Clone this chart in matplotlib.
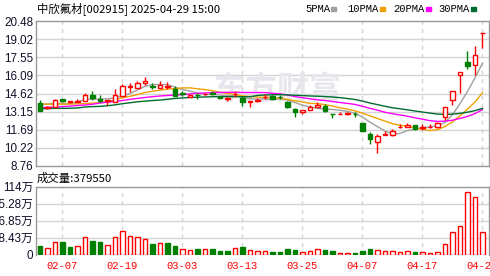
import matplotlib
matplotlib.use("Agg")
import matplotlib.pyplot as plt
import pandas as pd

# ---------------------------------------------------------------------------
# data (price in 元, volume in 万股)
# ---------------------------------------------------------------------------
dates = ["01-27", "02-05", "02-06", "02-07", "02-10", "02-11", "02-12", "02-13",
         "02-14", "02-17", "02-18", "02-19", "02-20", "02-21", "02-24", "02-25",
         "02-26", "02-27", "02-28", "03-03", "03-04", "03-05", "03-06", "03-07",
         "03-10", "03-11", "03-12", "03-13", "03-14", "03-17", "03-18", "03-19",
         "03-20", "03-21", "03-24", "03-25", "03-26", "03-27", "03-28", "03-31",
         "04-01", "04-02", "04-03", "04-07", "04-08", "04-09", "04-10", "04-11",
         "04-14", "04-15", "04-16", "04-17", "04-18", "04-21", "04-22", "04-23",
         "04-24", "04-25", "04-28", "04-29"]

opens = [13.83, 13.45, 13.50, 14.16, 13.92, 13.95, 14.05, 14.50, 14.18, 13.98,
         13.95, 14.42, 15.15, 15.10, 15.50, 15.20, 15.10, 15.15, 14.96, 14.70,
         14.36, 14.52, 14.55, 14.65, 14.36, 14.18, 14.55, 14.28, 13.95, 14.05,
         14.30, 14.42, 14.36, 13.90, 13.40, 13.10, 13.30, 13.55, 13.60, 12.98,
         12.95, 13.00, 12.98, 12.20, 11.32, 10.68, 11.30, 11.27, 11.90, 11.90,
         12.08, 11.85, 11.90, 11.88, 12.75, 14.10, 16.12, 17.15, 16.92, 19.50]
highs = [14.10, 13.60, 14.18, 14.20, 14.05, 14.20, 14.64, 14.82, 14.50, 14.10,
         14.96, 15.36, 15.45, 15.63, 15.93, 15.45, 15.63, 15.55, 15.25, 14.82,
         14.60, 14.70, 14.65, 14.82, 14.40, 14.30, 14.82, 14.42, 14.02, 14.23,
         14.58, 14.50, 14.50, 14.00, 13.45, 13.30, 13.70, 13.90, 13.75, 13.00,
         13.15, 13.10, 13.10, 12.20, 11.53, 11.35, 11.60, 11.75, 12.13, 12.20,
         12.10, 12.13, 12.13, 12.34, 13.55, 14.85, 16.38, 18.05, 18.46, 19.50]
lows = [13.20, 13.40, 13.50, 13.90, 13.85, 13.90, 14.02, 14.10, 13.90, 13.70,
        13.90, 14.40, 14.76, 15.08, 15.30, 14.96, 15.08, 14.96, 14.40, 14.42,
        14.34, 14.20, 14.50, 14.50, 14.25, 14.00, 14.36, 13.63, 13.55, 13.90,
        14.18, 14.18, 14.20, 13.45, 12.75, 12.95, 13.30, 13.50, 13.15, 12.62,
        12.95, 12.90, 12.70, 11.60, 10.54, 9.84, 11.30, 11.20, 11.80, 11.88,
        11.70, 11.67, 11.85, 11.80, 12.48, 13.70, 14.68, 16.60, 16.12, 18.27]
closes = [13.23, 13.55, 14.09, 14.02, 14.00, 14.05, 14.50, 14.24, 14.05, 14.08,
          14.50, 15.23, 15.25, 15.45, 15.60, 15.15, 15.30, 15.20, 14.42, 14.62,
          14.52, 14.48, 14.60, 14.60, 14.28, 14.22, 14.60, 13.90, 14.00, 14.10,
          14.35, 14.18, 14.30, 13.50, 13.10, 13.30, 13.50, 13.70, 13.18, 12.95,
          13.00, 13.05, 12.93, 11.62, 10.92, 11.18, 11.33, 11.59, 11.95, 12.08,
          11.75, 11.90, 11.95, 12.26, 13.55, 14.85, 16.38, 16.88, 17.73, 19.50]
volumes = [14.1, 10.3, 20.8, 20.8, 12.5, 13.6, 30.2, 22.4, 20.8, 15.3,
           30.2, 40.2, 31.9, 28.6, 25.2, 17.4, 18.6, 19.1, 14.1, 8.6,
           7.0, 9.1, 8.6, 9.1, 5.8, 5.8, 10.3, 12.6, 7.1, 5.6,
           5.5, 3.9, 4.4, 8.9, 7.2, 3.9, 5.5, 10.0, 7.2, 6.1,
           2.2, 3.3, 2.2, 5.5, 8.9, 7.2, 5.5, 5.5, 3.9, 5.5,
           3.9, 3.9, 2.2, 3.9, 17.2, 38.2, 48.1, 104.6, 96.3, 37.955]
# r = up day, g = down day (colour of each volume bar)
vol_dirs = "grrggrrggrrrrrrgrggrrgrgggrgrrrggggrrrggrrgggrrrrrgrrrrrrrrr"

# moving averages before the window is full (need days before the chart)
ma_heads = {
    5: [13.69, 13.77, 13.80, 13.83],
    10: [13.78, 13.76, 13.75, 13.76, 13.77, 13.78, 13.80, 13.84, 13.86],
    20: [13.48, 13.50, 13.52, 13.56, 13.60, 13.65, 13.69, 13.75, 13.85, 13.92,
         13.98, 14.05, 14.15, 14.22, 14.30, 14.36, 14.42, 14.46, 14.50],
    30: [13.38, 13.40, 13.42, 13.42, 13.43, 13.45, 13.53, 13.56, 13.58, 13.63,
         13.70, 13.80, 13.87, 13.95, 14.00, 14.05, 14.09, 14.15, 14.22, 14.26,
         14.30, 14.32, 14.34, 14.36, 14.36, 14.36, 14.36, 14.36, 14.36],
}
ma_colors = {5: "#a0a0a0", 10: "#f0a000", 20: "#ff00ff", 30: "#006b30"}

price_ticks = [8.76, 10.22, 11.69, 13.15, 14.62, 16.09, 17.55, 19.02, 20.48]
vol_ticks = [0, 28.43, 56.85, 85.28, 113.7]
vol_labels = ["0", "28.43万", "56.85万", "85.28万", "114万"]
date_ticks = ["02-07", "02-19", "03-03", "03-13", "03-25", "04-07", "04-17", "04-29"]

title = "中欣氟材[002915] 2025-04-29 15:00"
last_volume = "成交量:379550"

RED = "#ff0000"
GREEN = "#008000"
GRID = "#d4d4d4"
FRAME = "#999999"
CJK = ["Noto Sans CJK SC", "DejaVu Sans"]
NUM = ["Liberation Sans", "Noto Sans CJK SC"]

#############################################################################
# figure layout
# -------------

W, H = 490, 276
fig = plt.figure(figsize=(W / 100, H / 100), dpi=100)
ax = fig.add_axes([36 / W, 1 - 166 / H, 453 / W, 145 / H])
axv = fig.add_axes([36 / W, 1 - 254.5 / H, 453 / W, 67.7 / H])

n = len(closes)
x = list(range(n))
xlim = (-0.53, n - 0.13)

for a in (ax, axv):
    a.set_xlim(*xlim)
    for s in a.spines.values():
        s.set_color(FRAME)
        s.set_linewidth(1.0)
    a.tick_params(length=0)
    for d in date_ticks:
        a.axvline(dates.index(d), color=GRID, lw=1, ls=(0, (3, 3)), zorder=0)
axv.spines["bottom"].set_visible(False)

#############################################################################
# price panel
# -----------

ax.set_ylim(price_ticks[0], price_ticks[-1])
ax.set_yticks(price_ticks)
ax.set_yticklabels(["%.2f" % t for t in price_ticks], family=NUM,
                   fontsize=8.4, color="#10102a")
ax.tick_params(axis="y", pad=2)
ax.set_xticks([])
for t in price_ticks[1:-1]:
    ax.axhline(t, color=GRID, lw=1, zorder=0)

ax.text(0.39, 0.52, "东方财富", transform=ax.transAxes, fontsize=23,
        family=CJK, fontweight="bold", color="#e6e6ec", va="center",
        ha="left", zorder=0.5)

closes_s = pd.Series(closes)
for p, head in ma_heads.items():
    ma = closes_s.rolling(p).mean()
    ma.iloc[:len(head)] = head
    ax.plot(x, ma, color=ma_colors[p], lw=1.0, zorder=2)

for i in x:
    o, h, l, c = opens[i], highs[i], lows[i], closes[i]
    up = c >= o
    col = RED if up else GREEN
    ax.vlines(i, l, h, color=col, lw=1.0, zorder=3)
    body = max(abs(c - o), 0.015)
    ax.bar(i, body, bottom=min(o, c), width=0.62,
           facecolor="white" if up else GREEN, edgecolor=col, lw=1.0,
           zorder=4)

#############################################################################
# volume panel
# ------------

axv.set_ylim(vol_ticks[0], vol_ticks[-1])
axv.set_yticks(vol_ticks)
axv.set_yticklabels(vol_labels, family=NUM, fontsize=8.4, color="#10102a")
axv.tick_params(axis="y", pad=2)
for t in vol_ticks[1:-1]:
    axv.axhline(t, color=GRID, lw=1, zorder=0)
for i in x:
    up = vol_dirs[i] == "r"
    axv.bar(i, volumes[i], width=0.62,
            facecolor="white" if up else GREEN,
            edgecolor=RED if up else GREEN, lw=1.0, zorder=3)
axv.set_xticks([dates.index(d) for d in date_ticks])
axv.set_xticklabels(date_ticks, family=["Liberation Mono"], fontsize=7.6,
                    color=RED)
axv.tick_params(axis="x", pad=5)

#############################################################################
# header texts and legend
# -----------------------

fig.text(37 / W, 1 - 9 / H, title, family=CJK, fontsize=8.2, va="center",
         ha="left", color="black")
fig.text(37 / W, 1 - 178 / H, last_volume, family=CJK, fontsize=8.2,
         va="center", ha="left", color="black")

legend_x = {5: 305, 10: 347, 20: 393, 30: 438}
for p, lx in legend_x.items():
    t = fig.text(lx / W, 1 - 9 / H, "%dPMA" % p, family=["Liberation Mono"],
                 fontsize=7.6, va="center", ha="left", color="black")
    wpx = 6.1 * len("%dPMA" % p)
    fig.patches.append(plt.Rectangle(((lx + wpx + 2) / W, 1 - 10.5 / H),
                                     5 / W, 3 / H, color=ma_colors[p],
                                     transform=fig.transFigure, figure=fig))

fig.savefig("out.png", dpi=100)
